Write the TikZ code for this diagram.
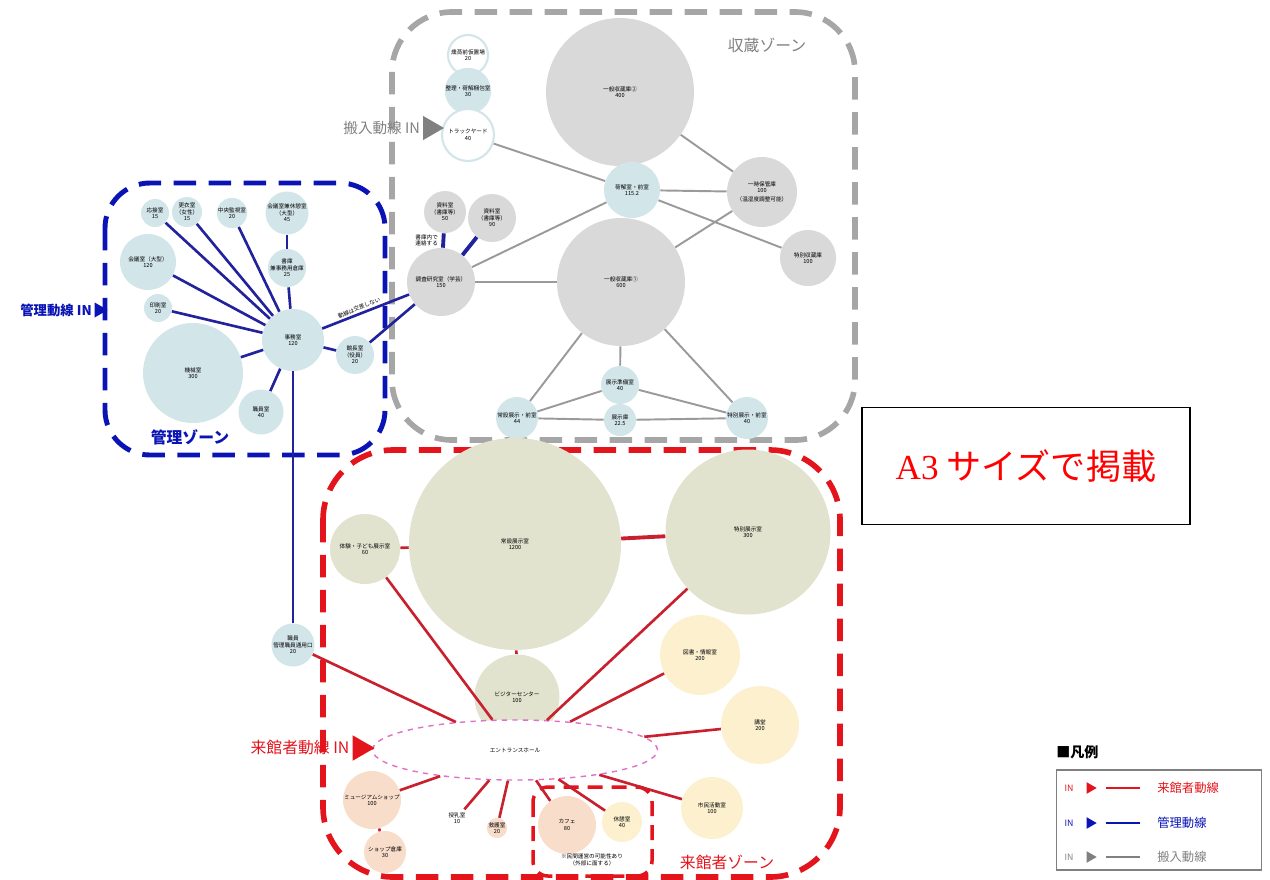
\documentclass[tikz,border=0pt]{standalone}
\usepackage{fontspec}
\setmainfont{Noto Sans CJK JP}
\newfontfamily\serifA{Liberation Serif}
\usetikzlibrary{shapes.geometric}

\definecolor{storegray}{HTML}{D9D9D9}
\definecolor{roomteal}{HTML}{D2E5E9}
\definecolor{roomolive}{HTML}{E1E3CE}
\definecolor{roomcream}{HTML}{FCF0CF}
\definecolor{roompeach}{HTML}{F9DDCB}
\definecolor{carrygray}{HTML}{9A9A9A}
\definecolor{framegray}{HTML}{A6A6A6}
\definecolor{staffblue}{HTML}{22229C}
\definecolor{frameblue}{HTML}{0A14B4}
\definecolor{visitred}{HTML}{C8202C}
\definecolor{framered}{HTML}{E4141C}
\definecolor{halldash}{HTML}{E070C8}

\begin{document}
\begin{tikzpicture}[
  x=0.02cm, y=-0.02cm,
  every node/.style={align=center, inner sep=0pt, font=\fontsize{3.2}{3.7}\selectfont},
  room/.style={circle, draw=none, minimum size=#1*0.02cm},
  grayroom/.style={room=#1, fill=storegray},
  tealroom/.style={room=#1, fill=roomteal},
  oliveroom/.style={room=#1, fill=roomolive},
  creamroom/.style={room=#1, fill=roomcream},
  peachroom/.style={room=#1, fill=roompeach},
  openroom/.style={room=#1, fill=white, draw=roomteal, line width=1.2pt},
  zone/.style={dash pattern=on 0.45cm off 0.25cm, line width=3.2pt},
  carry/.style={draw=carrygray, line width=1.1pt},
  staff/.style={draw=staffblue, line width=1.5pt},
  visit/.style={draw=visitred, line width=1.5pt},
  intri/.style={isosceles triangle, isosceles triangle apex angle=60, fill=#1, minimum height=0.38cm},
  legtri/.style={isosceles triangle, isosceles triangle apex angle=60, fill=#1, minimum height=0.2cm},
  zonelabel/.style={font=\fontsize{9}{10}\selectfont}
]
\useasboundingbox (0,0) rectangle (1270,879);

% zones
\draw[zone, framegray, rounded corners=1.2cm] (392,12) rectangle (855,440);
\draw[zone, frameblue, line width=2.8pt, rounded corners=0.9cm] (105,183) rectangle (385,455);
\draw[zone, framered, rounded corners=1.4cm] (323,450) rectangle (840,877);
\draw[framered, line width=2pt, dash pattern=on 0.3cm off 0.18cm, rounded corners=0.3cm] (533,787) rectangle (652,876);

\node[zonelabel, text=gray] (storelabel) at (767,45) {収蔵ゾーン};
\node[zonelabel, text=frameblue, font=\bfseries\fontsize{9}{10}\selectfont] (stafflabel) at (190,437) {管理ゾーン};
\node[zonelabel, text=framered] (visitlabel) at (727,862) {来館者ゾーン};

% storage rooms
\node[openroom=40] (kunjo) at (468,55) {燻蒸前仮置場\\20};
\node[tealroom=30] (konpo) at (468,91) {整理・荷解梱包室\\30};
\node[openroom=52] (truck) at (468,135) {トラックヤード\\40};
\node[grayroom=148] (ippan2) at (620,92) {一般収蔵庫②\\400};
\node[grayroom=128] (ippan1) at (621,282) {一般収蔵庫①\\600};
\node[tealroom=56] (zenshitsu) at (632,190) {荷解室・前室\\115.2};
\node[grayroom=70] (ichiji) at (762,192) {一時保管庫\\100\\[1.5pt]（温湿度調整可能）};
\node[grayroom=56] (tokushu) at (808,258) {特別収蔵庫\\100};
\node[grayroom=42] (shiryo1) at (445,212) {資料室\\（書庫等）\\50};
\node[grayroom=48] (shiryo2) at (492,218) {資料室\\（書庫等）\\90};
\node[grayroom=68] (kenkyu) at (441,282) {調査研究室（学芸）\\150};
\node[tealroom=38] (junbi) at (620,385) {展示準備室\\40};
\node[tealroom=42] (jozen) at (517,418) {常設展示・前室\\44};
\node[tealroom=32] (tenjiko) at (620,420) {展示庫\\22.5};
\node[tealroom=42] (tokuzen) at (747,418) {特別展示・前室\\40};

% management rooms
\node[tealroom=62] (jimu) at (293,340) {事務室\\120};
\node[tealroom=100] (kikai) at (193,373) {機械室\\300};
\node[tealroom=56] (kaigi) at (148,262) {会議室（大型）\\120};
\node[tealroom=28] (insatsu) at (158,308) {印刷室\\20};
\node[tealroom=28] (osetsu) at (155,213) {応接室\\15};
\node[tealroom=30] (koui) at (187,212) {更衣室\\（女性）\\15};
\node[tealroom=30] (kanshi) at (232,213) {中央監視室\\20};
\node[tealroom=42] (kyukei) at (287,213) {会議室兼休憩室\\（大型）\\45};
\node[tealroom=38] (shoko) at (287,268) {書庫\\兼事務用倉庫\\25};
\node[tealroom=38] (kancho) at (355,355) {館長室\\（役員）\\20};
\node[tealroom=45] (shokuin) at (261,412) {職員室\\40};

% visitor rooms
\node[oliveroom=70] (taiken) at (365,549) {体験・子ども展示室\\60};
\node[oliveroom=212] (josetsu) at (515,544) {常設展示室\\1200};
\node[oliveroom=165] (tokubetsu) at (748,532) {特別展示室\\300};
\node[oliveroom=85] (visitor) at (517,697) {ビジターセンター\\100};
\node[creamroom=80] (tosho) at (700,655) {図書・情報室\\200};
\node[creamroom=78] (kodo) at (760,725) {講堂\\200};
\node[creamroom=62] (shimin) at (712,808) {市民活動室\\100};
\node[ellipse, draw=halldash, dashed, line width=0.8pt, fill=white,
      minimum width=285*0.02cm, minimum height=60*0.02cm] (entrance) at (515,750) {エントランスホール};
\node[peachroom=58] (shop) at (372,800) {ミュージアムショップ\\100};
\node[peachroom=42] (shopko) at (385,852) {ショップ倉庫\\30};
\node[room=22] (junyu) at (457,818) {授乳室\\10};
\node[peachroom=20] (kyugo) at (497,828) {救護室\\20};
\node[peachroom=58] (cafe) at (567,825) {カフェ\\80};
\node[creamroom=40] (kyukeis) at (622,822) {休憩室\\40};
\node (note) at (592,860) {※民間運営の可能性あり\\（外部に面する）};
\node[tealroom=25] (tsuyo) at (293,645) {職員\\管理職員通用口\\20};

% carry-in lines
\draw[carry] (truck) -- (zenshitsu);
\draw[carry] (ippan2) -- (ichiji);
\draw[carry] (zenshitsu) -- (ichiji);
\draw[carry] (zenshitsu) -- (tokushu);
\draw[carry] (ichiji) -- (ippan1);
\draw[carry] (kenkyu) -- (zenshitsu);
\draw[carry] (kenkyu) -- (ippan1);
\draw[carry] (ippan1) -- (jozen);
\draw[carry] (ippan1) -- (tokuzen);
\draw[carry] (ippan1) -- (junbi);
\draw[carry] (junbi) -- (jozen);
\draw[carry] (junbi) -- (tokuzen);
\draw[carry] (jozen) -- (tenjiko);
\draw[carry] (tenjiko) -- (tokuzen);

% staff lines
\foreach \r in {osetsu, koui, kanshi, kaigi, insatsu, kikai, shokuin, kancho, shoko}
  \draw[staff] (\r) -- (jimu);
\draw[staff] (kyukei) -- (shoko);
\draw[staff] (jimu) -- node[pos=0.45, sloped, above=1pt] {動線は交差しない} (kenkyu);
\draw[staff] (kancho) -- (kenkyu);
\draw[staff, line width=2.2pt] (shiryo1) -- node[left=2pt] {書庫内で\\連絡する} (kenkyu);
\draw[staff, line width=2.2pt] (shiryo2) -- (kenkyu);
\draw[staff] (jimu) -- (tsuyo);

% visitor lines
\draw[visit] (taiken) -- (josetsu);
\draw[visit, line width=2.2pt] (josetsu) -- (tokubetsu);
\draw[visit] (josetsu) -- (visitor);
\foreach \r in {taiken, tokubetsu, tsuyo, tosho, kodo, shimin, shop, junyu, kyugo, cafe, kyukeis}
  \draw[visit] (\r) -- (entrance);
\draw[visit] (shop) -- (shopko);

% entrances
\node[intri=gray, minimum height=0.42cm] (carryin) at (430,128) {};
\node[anchor=east, text=gray, font=\fontsize{8.3}{9}\selectfont] (carrytext) at (carryin.west) {搬入動線 IN\,};
\node[intri=frameblue, minimum height=0.26cm] (staffin) at (99,310) {};
\node[anchor=east, text=frameblue, font=\bfseries\fontsize{7.6}{8}\selectfont] (stafftext) at (staffin.west) {管理動線 IN\,};
\node[intri=framered, minimum height=0.44cm] (visitin) at (360,748) {};
\node[anchor=east, text=framered, font=\fontsize{9}{10}\selectfont] (visittext) at (visitin.west) {来館者動線 IN\,};

% note box
\node[draw, line width=0.8pt, minimum width=328*0.02cm, minimum height=117*0.02cm,
      text=red, font=\fontsize{20}{22}\selectfont] (a3) at (1026,466) {{\serifA A3} サイズで掲載};

% legend
\node[anchor=west, font=\bfseries\fontsize{8}{9}\selectfont] (legtitle) at (1056,752) {■凡例};
\node[draw=gray, line width=0.6pt, minimum width=205*0.02cm, minimum height=100*0.02cm] (legbox) at (1159,820) {};
\foreach \y/\c/\t/\n in {788/framered/来館者動線/a, 823/frameblue/管理動線/b, 857/gray/搬入動線/c} {
  \node[text=\c, font=\fontsize{5}{6}\selectfont] (legin\n) at (1069,\y) {IN};
  \node[legtri=\c] (legtri\n) at (1090,\y) {};
  \coordinate (legs\n) at (1106,\y);
  \coordinate (lege\n) at (1140,\y);
  \draw[\c, line width=1.3pt] (legs\n) -- (lege\n);
  \node[anchor=west, text=\c, font=\fontsize{7}{8}\selectfont] (legtext\n) at (1157,\y) {\t};
}
\end{tikzpicture}
\end{document}
